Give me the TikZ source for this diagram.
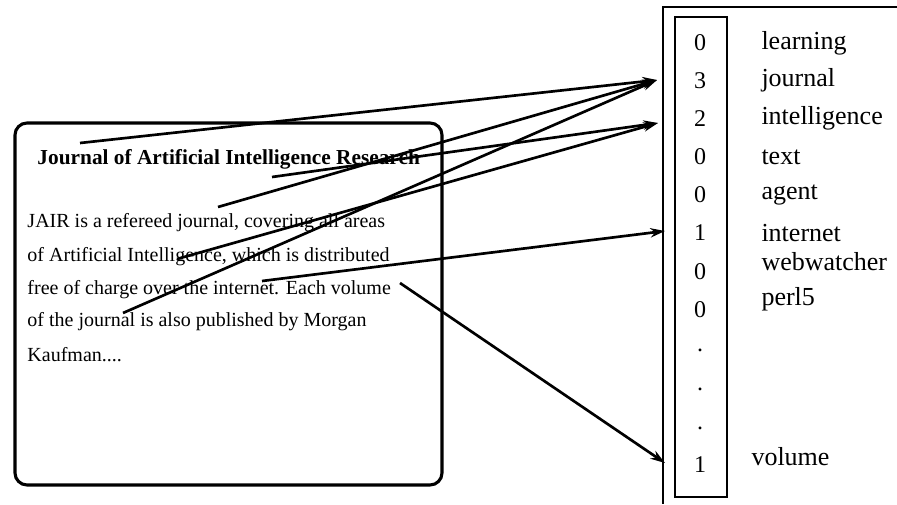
\documentclass[tikz,border=0pt]{standalone}
\usepackage{fontspec}
\setmainfont{Liberation Serif}
\usetikzlibrary{arrows.meta}

\tikzset{every picture/.style={line width=0.75pt}}

\begin{document}
\begin{tikzpicture}[x=0.75pt,y=0.75pt,yscale=-1,xscale=1,
  numtxt/.style={inner sep=0.75pt,font=\fontsize{18}{20}\selectfont},
  wordtxt/.style={anchor=west,inner sep=0.75pt,font=\fontsize{19.5}{22}\selectfont},
  bodytxt/.style={anchor=west,inner sep=0pt,font=\fontsize{15}{18}\selectfont},
  link/.style={line width=2pt,-{Stealth[length=11pt,width=7pt]}}]
\useasboundingbox (0,0) rectangle (897,504);

%Shape: Rounded Rect [id:box]
\draw [line width=2.3pt,rounded corners=9] (15,123) rectangle (442,485) ;
%Straight Lines [id:outer]
\draw [line width=1.9pt]   (897,7) -- (663,7) -- (663,504) ;
%Shape: Rectangle [id:vec]
\draw [line width=1.9pt]   (675,17) rectangle (727,497) ;

% Text Node
\draw (37,159) node (title) [bodytxt,font=\fontsize{16}{18}\selectfont\bfseries] {Journal of Artificial Intelligence Research};
% Text Node
\draw (27,223) node (body1) [bodytxt] {JAIR is a refereed journal, covering all areas};
% Text Node
\draw (27,257) node (body2) [bodytxt] {of Artificial Intelligence, which is distributed};
% Text Node
\draw (27,290) node (body3) [bodytxt] {free of charge over the internet. Each volume};
% Text Node
\draw (27,322) node (body4) [bodytxt] {of the journal is also published by Morgan};
% Text Node
\draw (27,355) node (body5) [bodytxt] {Kaufman....};

% Text Node
\draw (700,43) node (n1) [numtxt] {0};
\draw (760,43) node (w1) [wordtxt] {learning};
% Text Node
\draw (700,81) node (n2) [numtxt] {3};
\draw (760,80) node (w2) [wordtxt] {journal};
% Text Node
\draw (700,119) node (n3) [numtxt] {2};
\draw (760,118) node (w3) [wordtxt] {intelligence};
% Text Node
\draw (700,157) node (n4) [numtxt] {0};
\draw (760,157) node (w4) [wordtxt] {text};
% Text Node
\draw (700,195) node (n5) [numtxt] {0};
\draw (760,195) node (w5) [wordtxt] {agent};
% Text Node
\draw (700,233) node (n6) [numtxt] {1};
\draw (760,233) node (w6) [wordtxt] {internet};
% Text Node
\draw (700,272) node (n7) [numtxt] {0};
\draw (760,262) node (w7) [wordtxt] {webwatcher};
% Text Node
\draw (700,310) node (n8) [numtxt] {0};
\draw (760,299) node (w8) [wordtxt] {perl5};
% Text Node
\draw (700,350) node (d1) [numtxt] {.};
\draw (700,389) node (d2) [numtxt] {.};
\draw (700,428) node (d3) [numtxt] {.};
% Text Node
\draw (700,465) node (n9) [numtxt] {1};
\draw (750,457) node (w9) [wordtxt] {volume};

% word positions in the text
\coordinate (srcJa) at (80,143);
\coordinate (srcJb) at (218,207);
\coordinate (srcJc) at (123,313);
\coordinate (srcIa) at (272,177);
\coordinate (srcIb) at (177,259);
\coordinate (srcNet) at (262,281);
\coordinate (srcVol) at (400,283);
% arrow ends at the vector
\coordinate (tipJ) at (657,80);
\coordinate (tipI) at (658,123);
\coordinate (tipNet) at (665,231);
\coordinate (tipVol) at (665,463);

%Straight Lines [id:journal]
\draw [link]   (srcJa) -- (tipJ) ;
\draw [link]   (srcJb) -- (tipJ) ;
\draw [link]   (srcJc) -- (tipJ) ;
%Straight Lines [id:intelligence]
\draw [link]   (srcIa) -- (tipI) ;
\draw [link]   (srcIb) -- (tipI) ;
%Straight Lines [id:internet]
\draw [link]   (srcNet) -- (tipNet) ;
%Straight Lines [id:volume]
\draw [link]   (srcVol) -- (tipVol) ;

\end{tikzpicture}
\end{document}
